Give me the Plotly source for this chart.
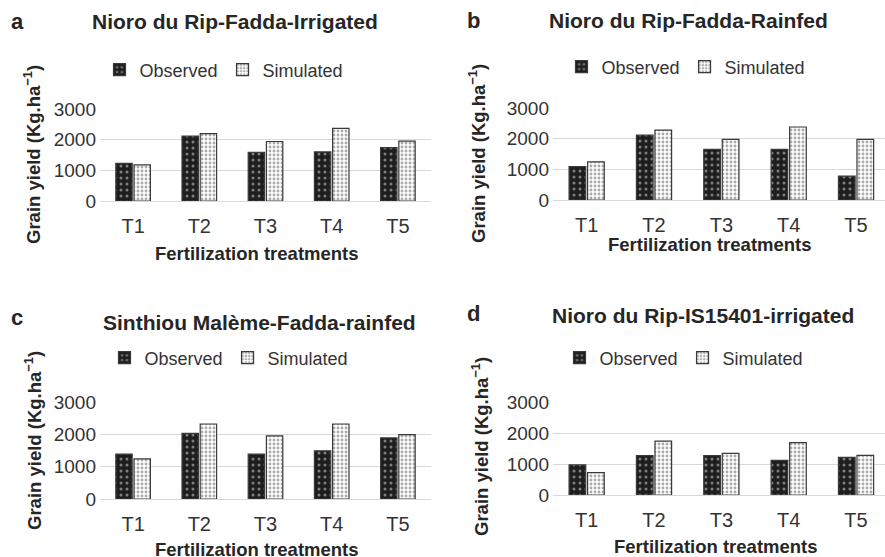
import plotly.graph_objects as go

W, H = 885, 557

treatments = ["T1", "T2", "T3", "T4", "T5"]
y_ticks = [0, 1000, 2000, 3000]

obs_a = [1230, 2120, 1590, 1600, 1740]
sim_a = [1180, 2200, 1940, 2370, 1950]
obs_b = [1090, 2120, 1650, 1650, 780]
sim_b = [1240, 2280, 1980, 2380, 1980]
obs_c = [1390, 2030, 1390, 1490, 1890]
sim_c = [1240, 2320, 1950, 2320, 1990]
obs_d = [970, 1270, 1270, 1120, 1215]
sim_d = [720, 1740, 1340, 1690, 1280]

titles = ["Nioro du Rip-Fadda-Irrigated", "Nioro du Rip-Fadda-Rainfed",
          "Sinthiou Malème-Fadda-rainfed", "Nioro du Rip-IS15401-irrigated"]
letters = ["a", "b", "c", "d"]
series_names = ["Observed", "Simulated"]

FONT = "Liberation Sans, Arial, sans-serif"
TXT = "#262626"

def px(x):
    return x / W

def py(y):
    return 1 - y / H

# panel geometry in pixels: (x0, x1, ytop(3000), ybottom(0), xrange_end)
panels = [
    (100, 431, 109, 201, 4.5),
    (553, 885, 108, 200, 4.43),
    (100, 431, 402, 499, 4.5),
    (553, 885, 402, 495, 4.43),
]
data = [(obs_a, sim_a), (obs_b, sim_b), (obs_c, sim_c), (obs_d, sim_d)]
legend_pos = [(224, 70), (686, 67), (229, 358), (684, 358)]
letter_pos = [(17, 21), (473, 20), (17, 317), (473, 313)]
title_pos = [(235, 21), (688, 20), (259, 322), (703, 315)]
ytitle_pos = [(32, 155), (477, 154), (33, 441), (480, 447)]
xtitle_pos = [(257, 253), (710, 245), (257, 549), (716, 546)]

fig = go.Figure()
layout = dict(
    width=W, height=H, margin=dict(l=0, r=0, t=0, b=0, pad=0),
    paper_bgcolor="white", plot_bgcolor="white",
    barmode="group", bargap=0.45, bargroupgap=0.1,
    font=dict(family=FONT, size=18, color=TXT),
    annotations=[],
)

for i, (obs, sim) in enumerate(data):
    k = "" if i == 0 else str(i + 1)
    leg = "legend" + k
    x0, x1, yt, yb, xend = panels[i]
    fig.add_trace(go.Bar(
        x=treatments, y=obs, name=series_names[0],
        xaxis="x" + k, yaxis="y" + k, legend=leg,
        marker=dict(color="#1e1e1e", line=dict(color="#3a3a3a", width=1.2),
                    pattern=dict(shape=".", fgcolor="#dddddd", bgcolor="#1e1e1e",
                                 size=6, solidity=0.2)),
    ))
    fig.add_trace(go.Bar(
        x=treatments, y=sim, name=series_names[1],
        xaxis="x" + k, yaxis="y" + k, legend=leg,
        marker=dict(color="white", line=dict(color="#3a3a3a", width=1.2),
                    pattern=dict(shape=".", fgcolor="#555555", bgcolor="white",
                                 size=4, solidity=0.4)),
    ))
    layout["xaxis" + k] = dict(
        domain=[px(x0), px(x1)], anchor="y" + k, type="category",
        range=[-0.5, xend], showgrid=False, showline=True, linecolor="#d9d9d9",
        ticks="", ticklabelstandoff=7, tickfont=dict(size=20, color="#333333"),
        fixedrange=True, automargin=False,
    )
    layout["yaxis" + k] = dict(
        domain=[py(yb), py(yt)], anchor="x" + k, range=[0, 3000],
        tickvals=y_ticks, showgrid=True, gridcolor="#d9d9d9", gridwidth=1,
        zeroline=False, showline=False, ticks="", ticklabelstandoff=3,
        tickfont=dict(size=19, color="#333333"), fixedrange=True, automargin=False,
    )
    lx, ly = legend_pos[i]
    layout[leg] = dict(
        x=px(lx), y=py(ly), xanchor="center", yanchor="middle",
        orientation="h", font=dict(size=18, color="#333333"),
        bgcolor="rgba(0,0,0,0)", itemwidth=30, tracegroupgap=0,
    )
    ax, ay = letter_pos[i]
    layout["annotations"].append(dict(
        text="<b>%s</b>" % letters[i], x=px(ax), y=py(ay), xref="paper", yref="paper",
        showarrow=False, xanchor="center", yanchor="middle",
        font=dict(size=22, color=TXT)))
    tx, ty = title_pos[i]
    layout["annotations"].append(dict(
        text="<b>%s</b>" % titles[i], x=px(tx), y=py(ty), xref="paper", yref="paper",
        showarrow=False, xanchor="center", yanchor="middle",
        font=dict(size=21, color=TXT)))
    yx, yy = ytitle_pos[i]
    layout["annotations"].append(dict(
        text="<b>Grain yield (Kg.ha<sup>−1</sup>)</b>", x=px(yx), y=py(yy),
        xref="paper", yref="paper", textangle=-90,
        showarrow=False, xanchor="center", yanchor="middle",
        font=dict(size=18.5, color=TXT)))
    xx, xy = xtitle_pos[i]
    layout["annotations"].append(dict(
        text="<b>Fertilization treatments</b>", x=px(xx), y=py(xy),
        xref="paper", yref="paper",
        showarrow=False, xanchor="center", yanchor="middle",
        font=dict(size=18.5, color=TXT)))

fig.update_layout(**layout)
fig.write_html("out.html", config={"displayModeBar": False},
               post_script="document.body.style.margin='0';document.body.style.overflow='hidden';")
